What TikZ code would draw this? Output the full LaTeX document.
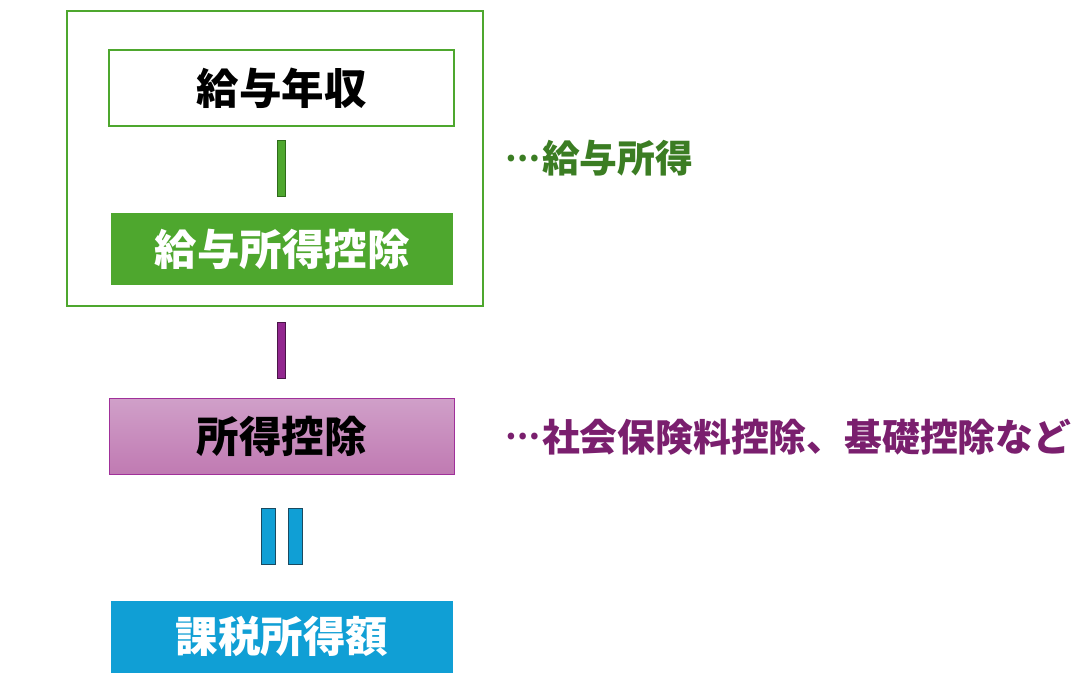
\documentclass[tikz,border=0pt]{standalone}
\usepackage{fontspec}
\newfontfamily\jp{Noto Sans CJK JP}
\newcommand{\cdotsfw}{\makebox[1em][c]{\raisebox{0.3em}{\resizebox{0.92em}{!}{\fontsize{37}{42}\selectfont …}}}}
\begin{document}
\begin{tikzpicture}[x=1pt,y=-1pt,
  boxtext/.style={font=\jp\bfseries\fontsize{42.5}{48}\selectfont, inner sep=0pt},
  labeltext/.style={font=\jp\bfseries\fontsize{37.8}{42}\selectfont, inner sep=0pt, anchor=west}]
\definecolor{gr}{HTML}{4EA72E}
\definecolor{grdark}{HTML}{2E6B1A}
\definecolor{grtext}{HTML}{3B7D23}
\definecolor{pu}{HTML}{A0309A}
\definecolor{putop}{HTML}{D0A0C9}
\definecolor{pubot}{HTML}{C07AB2}
\definecolor{pubar}{HTML}{92278F}
\definecolor{pudark}{HTML}{4A1548}
\definecolor{putext}{HTML}{7A1F6E}
\definecolor{bl}{HTML}{109FD5}
\definecolor{bldark}{HTML}{1A4A60}
\useasboundingbox (0,0) rectangle (1091,696);
\fill[white] (0,0) rectangle (1091,696);
% outer green frame
\draw[gr, line width=1.5pt] (67,11) rectangle (483,306);
% 給与年収
\draw[gr, line width=1.5pt, fill=white] (109,50) rectangle (454,126);
\node[boxtext] (a) at (281.5,88) {給与年収};
% green bar
\draw[grdark, fill=gr, line width=1pt] (277,140) rectangle (285,196);
% 給与所得控除
\fill[gr] (111,213) rectangle (453,285);
\node[boxtext, text=white] (b) at (282,249) {給与所得控除};
% purple bar
\draw[pudark, fill=pubar, line width=1pt] (277,322) rectangle (285,378);
% 所得控除
\shade[top color=putop, bottom color=pubot] (109,398) rectangle (454,474);
\draw[pu, line width=1pt] (109,398) rectangle (454,474);
\node[boxtext] (c) at (281.5,436) {所得控除};
% equals bars
\draw[bldark, fill=bl, line width=1pt] (261,508) rectangle (275,564);
\draw[bldark, fill=bl, line width=1pt] (288,508) rectangle (302,564);
% 課税所得額
\fill[bl] (111,601) rectangle (453,673);
\node[boxtext, text=white] (d) at (282,636) {課税所得額};
% labels
\node[labeltext, text=grtext] (l1) at (504,158) {\cdotsfw 給与所得};
\node[labeltext, text=putext] (l2) at (504,437) {\cdotsfw 社会保険料控除、基礎控除など};
\end{tikzpicture}
\end{document}
